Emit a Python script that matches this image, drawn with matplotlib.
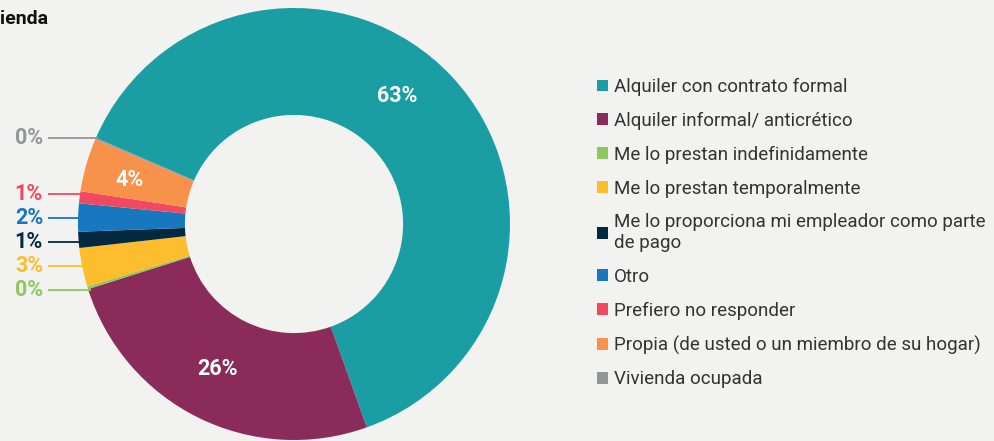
import numpy as np
import matplotlib
matplotlib.use("Agg")
import matplotlib.pyplot as plt
from matplotlib.patches import Patch

plt.rcParams['font.family'] = ['Roboto', 'DejaVu Sans']

# ---- data ----
categories = [
    "Alquiler con contrato formal",
    "Alquiler informal/ anticrético",
    "Me lo prestan indefinidamente",
    "Me lo prestan temporalmente",
    "Me lo proporciona mi empleador como parte\nde pago",
    "Otro",
    "Prefiero no responder",
    "Propia (de usted o un miembro de su hogar)",
    "Vivienda ocupada",
]
values = [63.0, 25.6, 0.2, 2.9, 1.2, 2.1, 0.9, 4.0, 0.1]
pct_labels = ["63%", "26%", "0%", "3%", "1%", "2%", "1%", "4%", "0%"]
colors = ["#1a9ea3", "#8b2b5a", "#8dc85c", "#fdbd2d", "#032840",
          "#1778bf", "#ef4a5f", "#f8914a", "#939598"]
title = "ienda"

# ---- layout ----
BG = "#f2f2f0"
W, H, DPI = 995, 441, 100
cx, cy, R = 294, 224, 216  # pixel centre / radius
START = 156.5

fig = plt.figure(figsize=(W / DPI, H / DPI), dpi=DPI, facecolor=BG)
ax = fig.add_axes([0, 0, 1, 1])
ax.set_facecolor(BG)

wedges, _ = ax.pie(values, colors=colors, startangle=START, counterclock=False,
                   radius=1.0, wedgeprops=dict(width=0.495, edgecolor='none'),
                   center=(0, 0))
ax.set_xlim(-cx / R, (W - cx) / R)
ax.set_ylim(-(H - cy) / R, cy / R)
ax.set_aspect('equal')
ax.axis('off')

total = float(sum(values))
angles = []
a = START
for v in values:
    span = v / total * 360.0
    angles.append(a - span / 2)
    a -= span

# inner labels
inner_offsets = {0: 8.0, 1: -1.5, 7: 1.0}
inner_r = {0: 0.76, 1: 0.76, 7: 0.79}
for i, v in enumerate(values):
    if v >= 3.5:
        ang = np.deg2rad(angles[i] + inner_offsets.get(i, 0.0))
        r = inner_r.get(i, 0.76)
        ax.text(r * np.cos(ang), r * np.sin(ang), pct_labels[i], color='white',
                fontsize=15.5, fontweight='bold', ha='center', va='center')

# outer labels with simple spreading
ext = [i for i, v in enumerate(values) if v < 3.5]
ys = {i: np.sin(np.deg2rad(angles[i])) for i in ext}
order = sorted(ext, key=lambda i: -ys[i])
gap = 0.112
for _ in range(200):
    for k in range(len(order) - 1):
        i1, i2 = order[k], order[k + 1]
        d = ys[i1] - ys[i2]
        if d < gap:
            s = (gap - d) / 2
            ys[i1] += s
            ys[i2] -= s
x_text = (43 - cx) / R
x_line0 = (48 - cx) / R
for i in ext:
    y = ys[i]
    xe = -np.sqrt(max(0.0, 1 - y * y)) + 0.01
    ax.plot([x_line0, xe], [y, y], color=colors[i], lw=1.3, solid_capstyle='butt')
    ax.text(x_text, y, pct_labels[i], color=colors[i], fontsize=15.5,
            fontweight='bold', ha='right', va='center')

# title (only its visible end, as in the reference)
fig.text(0 / W, 1 - 19 / H, title, fontsize=14, fontweight='bold',
         color='#111111', ha='left', va='center')

handles = [Patch(facecolor=c, edgecolor='none') for c in colors]
leg = ax.legend(handles, categories, loc='upper left',
                bbox_to_anchor=(597 / W, 1 - 78 / H), bbox_transform=fig.transFigure,
                frameon=False, fontsize=13.5, borderpad=0, borderaxespad=0,
                handlelength=0.6, handleheight=0.6, handletextpad=0.3,
                labelspacing=0.84)
for t in leg.get_texts():
    t.set_color('#333333')
    t.set_linespacing(1.2)

fig.savefig("out.png", dpi=DPI, facecolor=BG)
